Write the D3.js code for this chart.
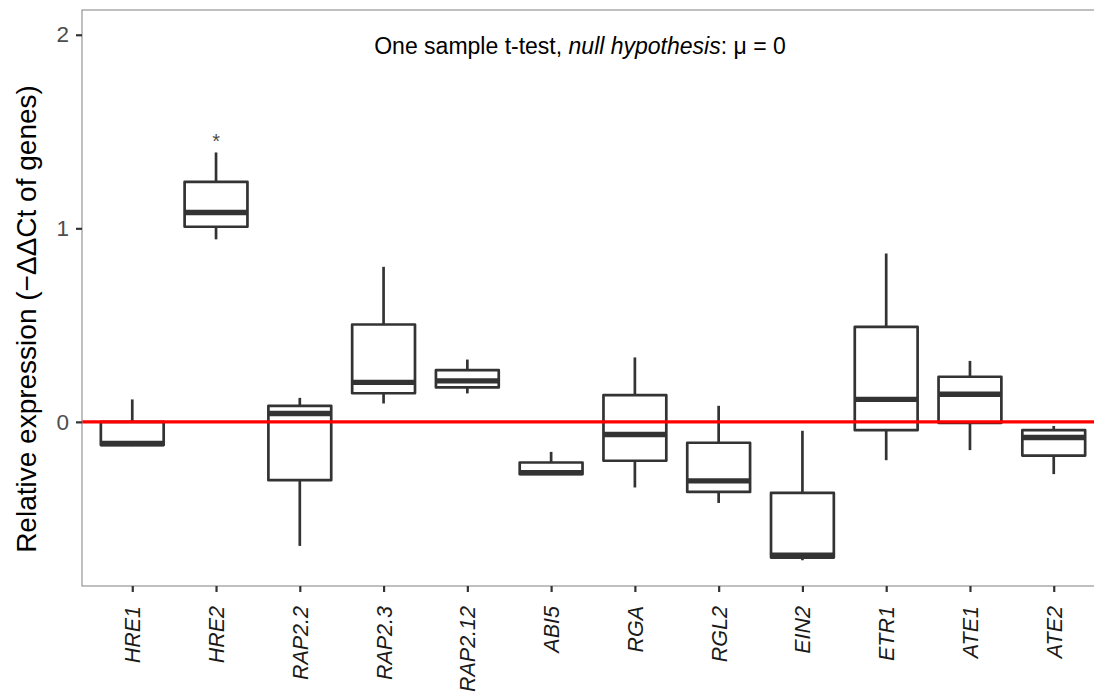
<!DOCTYPE html>
<html>
<head>
<meta charset="utf-8">
<script src="https://cdn.jsdelivr.net/npm/d3@7"></script>
<style>
  html, body { margin: 0; padding: 0; background: #fff; }
  svg { display: block; font-family: "Liberation Sans", Arial, sans-serif; }
</style>
</head>
<body>
<svg id="chart" width="1094" height="693"></svg>
<script>
// Genes shown on the x axis
const genes = ["HRE1", "HRE2", "RAP2.2", "RAP2.3", "RAP2.12", "ABI5", "RGA", "RGL2", "EIN2", "ETR1", "ATE1", "ATE2"];

// Box-plot summaries of −ΔΔCt per gene
const lowerWhisker = [-0.125, 0.943, -0.641, 0.095, 0.147, -0.270, -0.339, -0.419, -0.715, -0.198, -0.146, -0.270];
const q1           = [-0.120, 1.008, -0.301, 0.148, 0.178, -0.270, -0.201, -0.362, -0.701, -0.043, -0.005, -0.174];
const median       = [-0.112, 1.082,  0.043, 0.204, 0.212, -0.262, -0.065, -0.305, -0.689,  0.116,  0.143, -0.081];
const q3           = [ 0.000, 1.240,  0.083, 0.503, 0.267, -0.210,  0.138, -0.108, -0.367,  0.491,  0.233, -0.043];
const upperWhisker = [ 0.116, 1.392,  0.124, 0.801, 0.322, -0.155,  0.333,  0.083, -0.046,  0.870,  0.315, -0.021];

// Significance marks (one sample t-test against 0)
const signif = ["", "*", "", "", "", "", "", "", "", "", "", ""];

const yTicks = [0, 1, 2];
const referenceLevel = 0;

const svg = d3.select("#chart");
const panel = { left: 82, top: 10, right: 1104, bottom: 586 };

const x = d3.scalePoint().domain(genes).range([panel.left, panel.right]).padding(0.6);
const y = d3.scaleLinear().domain([-0.848, 2.128]).range([panel.bottom, panel.top]);
const boxW = x.step() * 0.75;

const data = genes.map((g, i) => ({
  gene: g, lo: lowerWhisker[i], q1: q1[i], med: median[i], q3: q3[i], hi: upperWhisker[i], sig: signif[i]
}));

const ink = "#333333";

// Boxes
const box = svg.append("g").selectAll("g").data(data).join("g");
box.append("line")
  .attr("x1", d => x(d.gene)).attr("x2", d => x(d.gene))
  .attr("y1", d => y(d.q3)).attr("y2", d => y(d.hi))
  .attr("stroke", ink).attr("stroke-width", 2.7);
box.append("line")
  .attr("x1", d => x(d.gene)).attr("x2", d => x(d.gene))
  .attr("y1", d => y(d.q1)).attr("y2", d => y(d.lo))
  .attr("stroke", ink).attr("stroke-width", 2.7);
box.append("rect")
  .attr("x", d => x(d.gene) - boxW / 2).attr("width", boxW)
  .attr("y", d => y(d.q3)).attr("height", d => y(d.q1) - y(d.q3))
  .attr("fill", "#fff").attr("stroke", ink).attr("stroke-width", 2.7)
  .attr("stroke-linejoin", "round");
box.append("line")
  .attr("x1", d => x(d.gene) - boxW / 2).attr("x2", d => x(d.gene) + boxW / 2)
  .attr("y1", d => y(d.med)).attr("y2", d => y(d.med))
  .attr("stroke", ink).attr("stroke-width", 5.4);

// Significance asterisks
svg.append("g").selectAll("text").data(data.filter(d => d.sig)).join("text")
  .attr("x", d => x(d.gene)).attr("y", d => y(d.hi) - 4)
  .attr("text-anchor", "middle")
  .style("font-size", "20px").attr("fill", "#4d4d4d")
  .text(d => d.sig);

// Reference line at zero
svg.append("line")
  .attr("x1", panel.left).attr("x2", panel.right)
  .attr("y1", y(referenceLevel)).attr("y2", y(referenceLevel))
  .attr("stroke", "#ff0000").attr("stroke-width", 3.2);

// Panel border
svg.append("rect")
  .attr("x", panel.left).attr("y", panel.top)
  .attr("width", panel.right - panel.left).attr("height", panel.bottom - panel.top)
  .attr("fill", "none").attr("stroke", "#8c8c8c").attr("stroke-width", 1.1);

// Y axis
const yAxis = svg.append("g").attr("transform", `translate(${panel.left},0)`)
  .call(d3.axisLeft(y).tickValues(yTicks).tickFormat(d3.format("d")).tickSize(6).tickPadding(7));
yAxis.select(".domain").remove();
yAxis.selectAll("line").attr("stroke", ink).attr("stroke-width", 2.2);
yAxis.selectAll("text")
  .style("font-size", "22.5px").attr("fill", "#4d4d4d")
  .style("font-family", "'Liberation Sans', Arial, sans-serif");

// X axis
const xAxis = svg.append("g").attr("transform", `translate(0,${panel.bottom})`)
  .call(d3.axisBottom(x).tickSize(6).tickPadding(0));
xAxis.select(".domain").remove();
xAxis.selectAll("line").attr("stroke", ink).attr("stroke-width", 2.2);
xAxis.selectAll("text")
  .style("font-size", "21.5px").attr("fill", "#1a1a1a").style("font-style", "italic")
  .style("font-family", "'Liberation Sans', Arial, sans-serif")
  .attr("text-anchor", "end").attr("dy", "0.35em")
  .attr("transform", "translate(0,20) rotate(-90)")
  .attr("x", 0).attr("y", 0);

// Y axis title
svg.append("text")
  .attr("transform", `translate(36,${(panel.top + panel.bottom) / 2 + 21}) rotate(-90)`)
  .attr("text-anchor", "middle")
  .style("font-size", "28px").attr("fill", "#000")
  .text("Relative expression (−ΔΔCt of genes)");

// Test annotation
const note = svg.append("text")
  .attr("x", 580).attr("y", 54)
  .attr("text-anchor", "middle")
  .style("font-size", "23px").attr("fill", "#000");
note.append("tspan").text("One sample t-test, ");
note.append("tspan").style("font-style", "italic").text("null hypothesis");
note.append("tspan").text(": μ = 0");
</script>
</body>
</html>
